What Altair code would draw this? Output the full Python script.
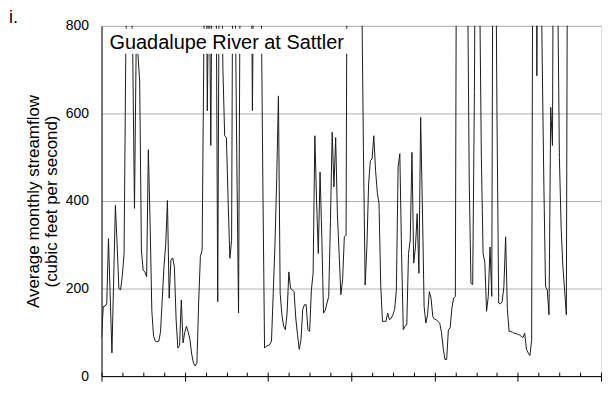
import altair as alt
import pandas as pd

# ---- data (monthly mean flow, cfs; month index from start) ----
months = list(range(270))
flows = [
    88, 159, 160, 165, 314, 183, 53, 220, 390, 300,
    200, 197, 230, 280, 742, 1000, 1200, 900, 735, 383,
    760, 735, 674, 288, 242, 238, 227, 517, 350, 150,
    91, 80, 78, 80, 100, 174, 250, 300, 401, 178,
    265, 270, 250, 130, 64, 70, 174, 76, 100, 114,
    100, 83, 50, 30, 23, 30, 167, 273, 288, 750,
    1200, 606, 1000, 527, 1100, 1300, 1000, 170, 1100, 1000,
    700, 549, 545, 400, 269, 310, 1300, 900, 500, 144,
    1000, 1500, 2000, 1400, 1100, 1600, 1200, 606, 1100, 1800,
    2200, 1300, 900, 450, 64, 68, 70, 72, 80, 189,
    300, 450, 640, 189, 140, 114, 106, 144, 238, 200,
    197, 193, 133, 95, 61, 83, 152, 163, 163, 106,
    102, 197, 235, 549, 400, 280, 466, 320, 144, 150,
    167, 182, 356, 557, 432, 545, 370, 280, 186, 220,
    318, 322, 1500, 2500, 1800, 1200, 1400, 2000, 1300, 1000,
    900, 520, 208, 295, 439, 492, 496, 549, 470, 420,
    394, 205, 125, 125, 125, 144, 129, 132, 140, 152,
    197, 477, 508, 280, 106, 114, 117, 280, 311, 511,
    258, 295, 371, 235, 591, 386, 159, 121, 140, 193,
    178, 136, 130, 129, 125, 121, 100, 64, 38, 38,
    106, 110, 155, 178, 182, 1500, 2500, 3000, 2000, 1800,
    1200, 950, 450, 212, 209, 650, 1400, 1800, 900, 500,
    280, 260, 148, 182, 295, 182, 1500, 1200, 600, 167,
    165, 170, 205, 318, 152, 102, 102, 100, 98, 97,
    95, 94, 91, 88, 98, 61, 53, 47, 83, 1500,
    2200, 686, 1600, 1100, 750, 450, 205, 197, 140, 614,
    527, 1500, 1800, 900, 500, 340, 250, 197, 140, 1500,
]
year_ticks = list(range(0, 289, 12))
major_ticks = list(range(0, 289, 48))
y_ticks = [0, 200, 400, 600, 800]
y_title = ["Average monthly streamflow", "(cubic feet per second)"]
station_label = "Guadalupe River at Sattler"
panel_label = "i."

FONT = "Liberation Sans"

df = pd.DataFrame({"month": months, "flow": flows})
lab = pd.DataFrame({"station": [station_label], "panel": [panel_label]})

xscale = alt.Scale(domain=[0, 288], nice=False, zero=False)
yscale = alt.Scale(domain=[0, 800], nice=False)

line = alt.Chart(df).mark_line(color="#1a1a1a", strokeWidth=1, clip=True).encode(
    x=alt.X(
        "month:Q",
        scale=xscale,
        axis=alt.Axis(
            orient="bottom", values=major_ticks, labels=False, title=None, grid=False,
            domainColor="black", tickColor="black", tickSize=5, domainWidth=1, tickWidth=1,
        ),
    ),
    y=alt.Y(
        "flow:Q",
        scale=yscale,
        axis=alt.Axis(
            orient="left", values=y_ticks, title=y_title, grid=True, gridColor="#b0b0b0",
            gridWidth=1, ticks=False, labelPadding=13, labelFontSize=14, labelFont=FONT,
            labelColor="black", domainColor="black", domainWidth=1,
            titleFont=FONT, titleFontSize=17, titleFontWeight="normal", titleColor="black",
            titleLineHeight=18, titleX=-76, titleY=176, titleAngle=270,
            titleAlign="center", titleBaseline="top",
        ),
    ),
)

minor = alt.Chart(df).mark_line(opacity=0).encode(
    x=alt.X(
        "month:Q",
        scale=xscale,
        axis=alt.Axis(
            orient="bottom", values=year_ticks, labels=False, title=None, grid=False,
            domain=False, tickSize=4, offset=-4, tickColor="black", tickWidth=1,
        ),
    ),
    y=alt.Y("flow:Q", scale=yscale, axis=None),
)

box = alt.Chart(lab).mark_rect(color="white").encode(
    x=alt.value(3), x2=alt.value(248), y=alt.value(3), y2=alt.value(28)
)

station = alt.Chart(lab).mark_text(
    font=FONT, fontSize=20, color="black", align="left", baseline="alphabetic"
).encode(text="station:N", x=alt.value(8), y=alt.value(23))

panel = alt.Chart(lab).mark_text(
    font=FONT, fontSize=18, color="black", align="left", baseline="alphabetic"
).encode(text="panel:N", x=alt.value(-93), y=alt.value(-3))

chart = (
    alt.layer(line, minor, box, station, panel)
    .resolve_axis(x="independent", y="independent")
    .properties(
        width=502,
        height=352,
        autosize=alt.AutoSizeParams(type="none"),
        padding={"left": 94, "top": 17, "right": 4, "bottom": 12},
    )
    .configure_view(stroke=None)
    .configure(background="white")
)

chart.save("out.html", embed_options={"renderer": "svg", "actions": False})
